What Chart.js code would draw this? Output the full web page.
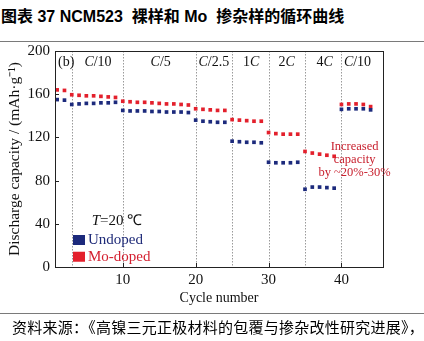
<!DOCTYPE html>
<html><head><meta charset="utf-8">
<script src="https://cdn.jsdelivr.net/npm/chart.js@4"></script>
<style>
html,body{margin:0;padding:0;background:#fff;}
#wrap{position:relative;width:424px;height:341px;overflow:hidden;background:#fff}
#title{position:absolute;left:1px;top:7px;font:bold 16px "Liberation Sans","Noto Sans CJK SC",sans-serif;white-space:pre;color:#000;line-height:20px}
#line1{position:absolute;left:0;top:41px;width:424px;height:1px;background:#7a7a7a}
#line2{position:absolute;left:0;top:313px;width:424px;height:1px;background:#7a7a7a}
#src{position:absolute;left:12px;top:317px;font:15px "Noto Sans CJK SC",sans-serif;white-space:pre;color:#000;line-height:20px;letter-spacing:0.25px}
canvas{position:absolute;left:0;top:0}
</style></head>
<body>
<div id="wrap">
<div id="title">图表 37 NCM523  裸样和 Mo  掺杂样的循环曲线</div>
<div id="line1"></div>
<canvas id="c" width="424" height="341"></canvas>
<div id="line2"></div>
<div id="src">资料来源：《高镍三元正极材料的包覆与掺杂改性研究进展》，</div>
</div>
<script>
// ---- data ----
const cycles = [1,2, 3,4,5,6,7,8,9, 10,11,12,13,14,15,16,17,18,19, 20,21,22,23,24, 25,26,27,28,29, 30,31,32,33,34, 35,36,37,38,39, 40,41,42,43,44];
const undoped = [155,154.5, 150.5,151,151.5,151.5,152,152,152.5, 145,144.5,144.5,144.5,144,144,143.5,143.5,143.5,143, 136,135,134.5,134,134, 116.5,116,115.5,115.5,115, 97,96.5,96.5,96.5,97, 72,74,74,73.5,73, 146,146.5,146.5,146.5,145.5];
const moDoped = [164,163.5, 159.5,159,158.5,158.5,158,157.5,157, 153.5,153,152.5,152.5,152,151.5,151,151,150.5,150, 146.5,146,145.5,145,145, 136.5,136,135.5,135,135, 124.5,123.5,123,123,123, 107,105.5,104.5,103.5,102.5, 150.5,151,151,150.5,148.5];
const stageBounds = [3,10,20,25,30,35,40];
const stageLabels = ['C/10','C/5','C/2.5','1C','2C','4C','C/10'];
const stageLabelAt = [6.6,15.2,22.5,27.6,32.5,37.7,42.2];
const xTicks = [10,20,30,40];
const yTicks = [0,40,80,120,160,200];
const seriesNames = ['Undoped','Mo-doped'];
const annotationLines = ['Increased','capacity','by ~20%-30%'];

const NAVY = '#1c2a7c', RED = '#e3202c';
const SERIF = '"Liberation Serif","Times New Roman",serif';

function pts(vals){ return cycles.map((c,i)=>({x:c,y:vals[i]})); }

function drawRich(ctx, label, cx, cy, size, color){
  const parts = label.split(/(C|T)/).filter(s=>s.length);
  let w = 0;
  const fonts = parts.map(p => ((p==='C'||p==='T') ? 'italic ' : '') + size + 'px ' + SERIF);
  parts.forEach((p,i)=>{ ctx.font = fonts[i]; w += ctx.measureText(p).width; });
  let x = cx - w/2;
  ctx.fillStyle = color; ctx.textBaseline = 'middle'; ctx.textAlign = 'left';
  parts.forEach((p,i)=>{ ctx.font = fonts[i]; ctx.fillText(p, x, cy); x += ctx.measureText(p).width; });
  return w;
}

const overlay = {
  id:'overlay',
  beforeDatasetsDraw(chart){
    const {ctx, chartArea:a, scales:{x}} = chart;
    ctx.save();
    ctx.strokeStyle = '#9a9a9a'; ctx.lineWidth = 1; ctx.setLineDash([1.5,1.5]);
    stageBounds.forEach(v=>{
      const px = Math.round(x.getPixelForValue(v)) + 0.5;
      ctx.beginPath(); ctx.moveTo(px, a.top); ctx.lineTo(px, a.bottom); ctx.stroke();
    });
    ctx.restore();
  },
  afterDatasetsDraw(chart){
    const {ctx, chartArea:a, scales:{x,y}} = chart;
    ctx.save();
    // frame
    ctx.strokeStyle = '#222'; ctx.lineWidth = 1;
    ctx.strokeRect(Math.round(a.left)+0.5, Math.round(a.top)+0.5, Math.round(a.right-a.left), Math.round(a.bottom-a.top));
    // inner ticks
    ctx.beginPath();
    yTicks.forEach(v=>{ const py = Math.round(y.getPixelForValue(v))+0.5; ctx.moveTo(a.left, py); ctx.lineTo(a.left+4, py); });
    xTicks.forEach(v=>{ const px = Math.round(x.getPixelForValue(v))+0.5; ctx.moveTo(px, a.bottom); ctx.lineTo(px, a.bottom-4); });
    ctx.stroke();
    // stage labels
    const ly = a.top + 11;
    stageLabels.forEach((l,i)=> drawRich(ctx, l, x.getPixelForValue(stageLabelAt[i]), ly, 14, '#111'));
    ctx.font = '14px ' + SERIF; ctx.fillStyle = '#111'; ctx.textAlign = 'left'; ctx.textBaseline = 'middle';
    ctx.fillText('(b)', a.left + 3, ly);
    // annotation
    ctx.font = '12.5px ' + SERIF; ctx.fillStyle = '#c8202e'; ctx.textAlign = 'center';
    const ax = x.getPixelForValue(41.8);
    annotationLines.forEach((t,i)=> ctx.fillText(t, ax, y.getPixelForValue(111.5 - i*12)));
    // T=20 ℃
    drawRich(ctx, 'T=20 ℃', a.left + 62, y.getPixelForValue(42.5), 15, '#111');
    // legend
    const cols = [NAVY, RED];
    const tcols = ['#1e2a78', '#d42030'];
    seriesNames.forEach((n,i)=>{
      const cy = y.getPixelForValue(25 - i*15.5);
      ctx.fillStyle = cols[i];
      ctx.fillRect(a.left + 18, cy - 5, 12, 10);
      ctx.font = '15px ' + SERIF; ctx.fillStyle = tcols[i]; ctx.textAlign = 'left'; ctx.textBaseline = 'middle';
      ctx.fillText(n, a.left + 33, cy);
    });
    ctx.restore();
  }
};

new Chart(document.getElementById('c'), {
  type:'scatter',
  data:{ datasets:[
    { label: seriesNames[0], data: pts(undoped), backgroundColor: NAVY, borderWidth:0, pointStyle:'rect', pointRadius:2.6, pointHoverRadius:2.6 },
    { label: seriesNames[1], data: pts(moDoped), backgroundColor: RED, borderWidth:0, pointStyle:'rect', pointRadius:2.6, pointHoverRadius:2.6 }
  ]},
  options:{
    responsive:false, animation:false, devicePixelRatio:1,
    layout:{ padding:{ left:6, top:51, right:41, bottom:34 } },
    plugins:{ legend:{display:false}, tooltip:{enabled:false} },
    font:{ family: SERIF },
    scales:{
      x:{ type:'linear', min:0.7, max:45.7,
          grid:{display:false, drawTicks:false}, border:{display:false},
          afterBuildTicks(s){ s.ticks = xTicks.map(v=>({value:v})); },
          afterFit(s){ s.height = 40; },
          ticks:{ font:{family:SERIF,size:15}, color:'#111', padding:4, maxRotation:0 },
          title:{ display:true, text:'Cycle number', font:{family:SERIF,size:14}, color:'#111', padding:0 } },
      y:{ min:0, max:200,
          grid:{display:false, drawTicks:false}, border:{display:false},
          afterBuildTicks(s){ s.ticks = yTicks.map(v=>({value:v})); },
          afterFit(s){ s.width = 49; },
          ticks:{ font:{family:SERIF,size:15}, color:'#111', padding:5 },
          title:{ display:true, text:'Discharge capacity / (mAh·g⁻¹)', font:{family:SERIF,size:15.5}, color:'#111', padding:0 } }
    }
  },
  plugins:[overlay]
});
</script>
</body></html>
